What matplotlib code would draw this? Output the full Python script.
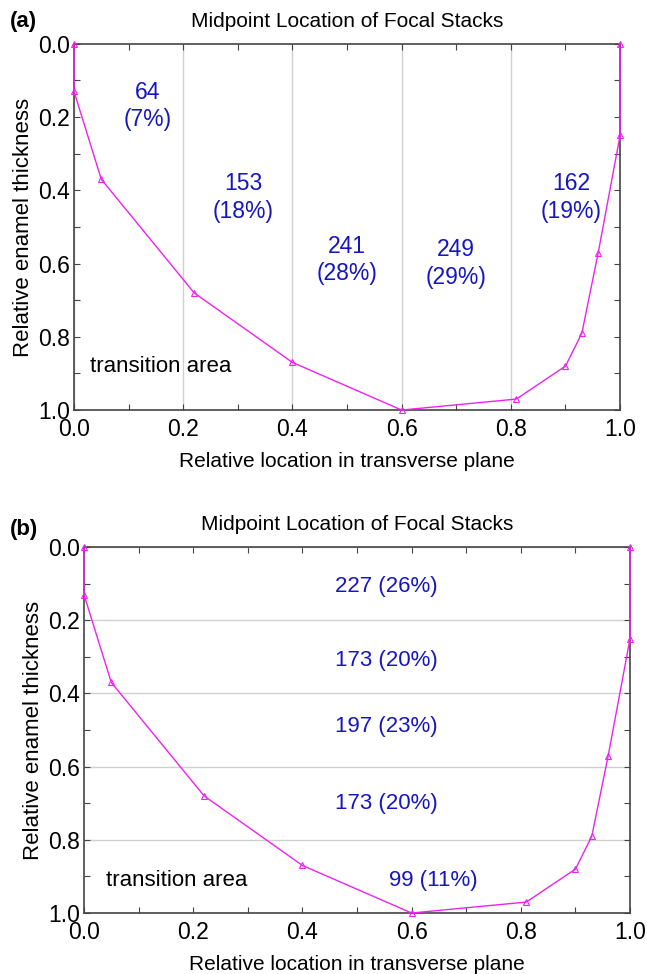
import matplotlib
matplotlib.use('Agg')
import matplotlib.pyplot as plt
from matplotlib.ticker import MultipleLocator

plt.rcParams['font.family'] = ['Liberation Sans', 'DejaVu Sans']

# boundary curve of the transition area
loc_x = [0.0, 0.0, 0.05, 0.22, 0.40, 0.60, 0.81, 0.90, 0.93, 0.96, 1.0, 1.0]
thick_y = [0.0, 0.13, 0.37, 0.68, 0.87, 1.0, 0.97, 0.88, 0.79, 0.57, 0.25, 0.0]

# (a) counts per transverse section
a_labels = ['64\n(7%)', '153\n(18%)', '241\n(28%)', '249\n(29%)', '162\n(19%)']
a_x = [0.134, 0.31, 0.50, 0.70, 0.91]
a_y = [0.17, 0.42, 0.59, 0.60, 0.42]

# (b) counts per depth section
b_labels = ['227 (26%)', '173 (20%)', '197 (23%)', '173 (20%)', '99 (11%)']
b_x = [0.553, 0.553, 0.553, 0.553, 0.64]
b_y = [0.107, 0.31, 0.49, 0.70, 0.91]

magenta = '#ee22ee'
blue = '#1616c0'

fig = plt.figure(figsize=(6.47, 9.74), dpi=100)
ax_a = fig.add_axes([0.1144, 0.579, 0.844, 0.376])
ax_b = fig.add_axes([0.1298, 0.0626, 0.844, 0.3758])


def style(ax, gridaxis):
	ax.plot(loc_x, thick_y, color=magenta, lw=1, marker='^', ms=4,
			mfc='none', mec=magenta, mew=0.8, clip_on=False, zorder=3)
	ax.set_xlim(0, 1)
	ax.set_ylim(1, 0)
	ax.xaxis.set_major_locator(MultipleLocator(0.2))
	ax.yaxis.set_major_locator(MultipleLocator(0.2))
	ax.xaxis.set_minor_locator(MultipleLocator(0.1))
	ax.yaxis.set_minor_locator(MultipleLocator(0.1))
	ax.xaxis.set_major_formatter(lambda v, p: '%.1f' % v)
	ax.yaxis.set_major_formatter(lambda v, p: '%.1f' % v)
	ax.tick_params(which='both', direction='in', top=True, right=True,
				   length=4, width=0.8, color='#444444', labelsize=16.5)
	ax.tick_params(axis='x', pad=6)
	ax.tick_params(axis='y', pad=3)
	ax.grid(axis=gridaxis, color='#d0d0d0', lw=1)
	for s in ax.spines.values():
		s.set_color('#444444')
		s.set_linewidth(1.2)
	ax.set_title('Midpoint Location of Focal Stacks', fontsize=15, pad=12)
	ax.set_xlabel('Relative location in transverse plane', fontsize=15, labelpad=8)
	ax.set_ylabel('Relative enamel thickness', fontsize=16, labelpad=3)


style(ax_a, 'x')
for t, x, y in zip(a_labels, a_x, a_y):
	ax_a.text(x, y, t, color=blue, fontsize=16.5, ha='center', va='center',
			  linespacing=1.25)
ax_a.text(0.03, 0.88, 'transition area', fontsize=16, va='center')

style(ax_b, 'y')
for t, x, y in zip(b_labels, b_x, b_y):
	ax_b.text(x, y, t, color=blue, fontsize=16, ha='center', va='center')
ax_b.text(0.04, 0.91, 'transition area', fontsize=16, va='center')

fig.text(0.015, 0.978, '(a)', fontsize=16, fontweight='bold', va='center')
fig.text(0.015, 0.456, '(b)', fontsize=16, fontweight='bold', va='center')

fig.savefig('out.png', dpi=100)
